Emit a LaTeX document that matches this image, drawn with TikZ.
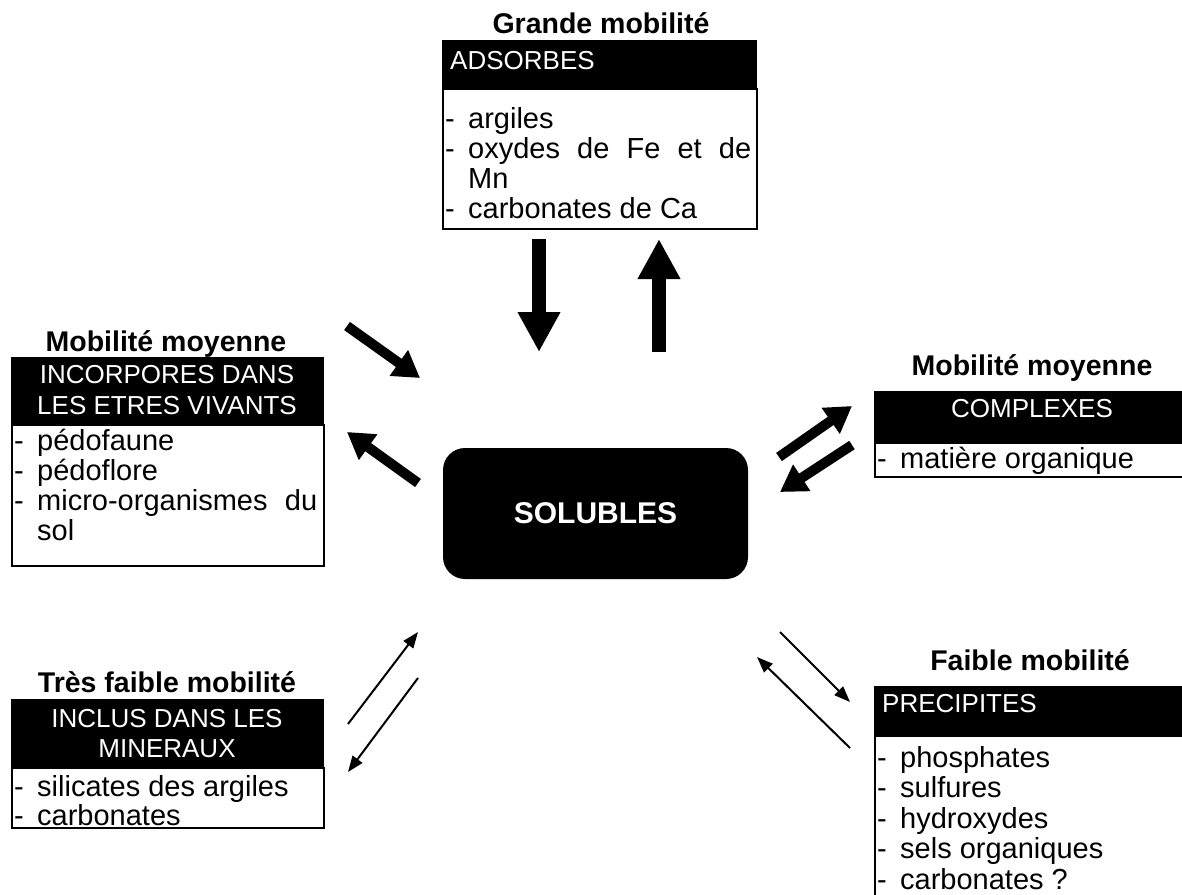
\documentclass[tikz,border=0pt]{standalone}
\usepackage{fontspec}
\setmainfont{Liberation Sans}
\usetikzlibrary{arrows.meta}
\begin{document}
\begin{tikzpicture}[x=1pt,y=-1pt,
  hdr/.style={fill=black,draw=black,line width=1pt,anchor=north west,inner sep=0pt},
  bodybox/.style={draw=black,line width=1.5pt,fill=white,anchor=north west,inner sep=0pt},
  lbl/.style={font=\fontsize{28.5}{32}\selectfont\bfseries,anchor=base,inner sep=0pt},
  htxt/.style={font=\fontsize{26}{30}\selectfont,text=white,inner sep=0pt},
  btxt/.style={font=\fontsize{29}{32}\selectfont,anchor=base west,inner sep=0pt},
  bigarrow/.style={line width=14pt,-{Triangle[length=40pt,width=40pt]}},
  midarrow/.style={line width=10pt,-{Triangle[length=26pt,width=30pt]}},
  thinarrow/.style={line width=2pt,-{Triangle[length=16pt,width=12pt]}},
]
\useasboundingbox (0,0) rectangle (1182,894);
\clip (0,0) rectangle (1182,894);
\newcommand\dsh{\makebox[23pt][l]{-}}
\newcommand\ind{\makebox[23pt][l]{}}

% ADSORBES
\node[lbl] (adsL) at (601,33) {Grande mobilité};
\node[bodybox,minimum width=314pt,minimum height=140pt] (adsB) at (442,88) {};
\node[hdr,minimum width=314pt,minimum height=48pt] (adsH) at (442,40) {};
\node[htxt,anchor=base west] (adsT) at (450,69) {ADSORBES};
\node[btxt] (ads1) at (445,128) {\dsh argiles};
\node[btxt] (ads2) at (445,158) {\dsh\makebox[283pt][s]{oxydes de Fe et de}};
\node[btxt] (ads3) at (445,188) {\ind Mn};
\node[btxt] (ads4) at (445,218) {\dsh carbonates de Ca};

% INCORPORES
\node[lbl] (incL) at (166,351) {Mobilité moyenne};
\node[bodybox,minimum width=312pt,minimum height=141pt] (incB) at (11,424) {};
\node[hdr,minimum width=312pt,minimum height=67pt] (incH) at (11,357) {};
\node[htxt,anchor=base] (incT1) at (167,383) {INCORPORES DANS};
\node[htxt,anchor=base] (incT2) at (167,414) {LES ETRES VIVANTS};
\node[btxt] (inc1) at (14,450) {\dsh pédofaune};
\node[btxt] (inc2) at (14,480) {\dsh pédoflore};
\node[btxt] (inc3) at (14,510) {\dsh\makebox[280pt][s]{micro-organismes du}};
\node[btxt] (inc4) at (14,540) {\ind sol};

% COMPLEXES
\node[lbl] (comL) at (1032,375) {Mobilité moyenne};
\node[bodybox,minimum width=316pt,minimum height=34pt] (comB) at (874,442) {};
\node[hdr,minimum width=316pt,minimum height=51pt] (comH) at (874,391) {};
\node[htxt,anchor=base] (comT) at (1032,417) {COMPLEXES};
\node[btxt] (com1) at (877,468) {\dsh matière organique};

% INCLUS
\node[lbl] (minL) at (167,692) {Très faible mobilité};
\node[bodybox,minimum width=312pt,minimum height=60pt] (minB) at (11,767) {};
\node[hdr,minimum width=312pt,minimum height=68pt] (minH) at (11,699) {};
\node[htxt,anchor=base] (minT1) at (167,727) {INCLUS DANS LES};
\node[htxt,anchor=base] (minT2) at (167,757) {MINERAUX};
\node[btxt] (min1) at (14,796) {\dsh silicates des argiles};
\node[btxt] (min2) at (14,825) {\dsh carbonates};

% PRECIPITES
\node[lbl] (preL) at (1030,670) {Faible mobilité};
\node[bodybox,minimum width=316pt,minimum height=170pt] (preB) at (874,735) {};
\node[hdr,minimum width=316pt,minimum height=49pt] (preH) at (874,686) {};
\node[htxt,anchor=base west] (preT) at (882,712) {PRECIPITES};
\node[btxt] (pre1) at (877,767) {\dsh phosphates};
\node[btxt] (pre2) at (877,797) {\dsh sulfures};
\node[btxt] (pre3) at (877,828) {\dsh hydroxydes};
\node[btxt] (pre4) at (877,858) {\dsh sels organiques};
\node[btxt] (pre5) at (877,889) {\dsh carbonates ?};

% SOLUBLES
\node[fill=black,rounded corners=22pt,minimum width=305pt,minimum height=131pt,
      text=white,font=\fontsize{30}{32}\selectfont\bfseries,inner sep=0pt] (sol) at (595.5,513.5) {SOLUBLES};

% arrow end points
\coordinate (a1s) at (539,239); \coordinate (a1e) at (539,352);
\coordinate (a2s) at (659,352); \coordinate (a2e) at (659,239);
\coordinate (b1s) at (347,326); \coordinate (b1e) at (420,378);
\coordinate (b2s) at (418,483); \coordinate (b2e) at (347,432);
\coordinate (b3s) at (779,457); \coordinate (b3e) at (852,406);
\coordinate (b4s) at (852,445); \coordinate (b4e) at (780,492);
\coordinate (c1s) at (348,724); \coordinate (c1e) at (418,632);
\coordinate (c2s) at (418,678); \coordinate (c2e) at (348,772);
\coordinate (c3s) at (780,632); \coordinate (c3e) at (850,702);
\coordinate (c4s) at (850,748); \coordinate (c4e) at (757,657);

\draw[bigarrow] (a1s) -- (a1e);
\draw[bigarrow] (a2s) -- (a2e);
\draw[midarrow] (b1s) -- (b1e);
\draw[midarrow] (b2s) -- (b2e);
\draw[midarrow] (b3s) -- (b3e);
\draw[midarrow] (b4s) -- (b4e);
\draw[thinarrow] (c1s) -- (c1e);
\draw[thinarrow] (c2s) -- (c2e);
\draw[thinarrow] (c3s) -- (c3e);
\draw[thinarrow] (c4s) -- (c4e);
\end{tikzpicture}
\end{document}
